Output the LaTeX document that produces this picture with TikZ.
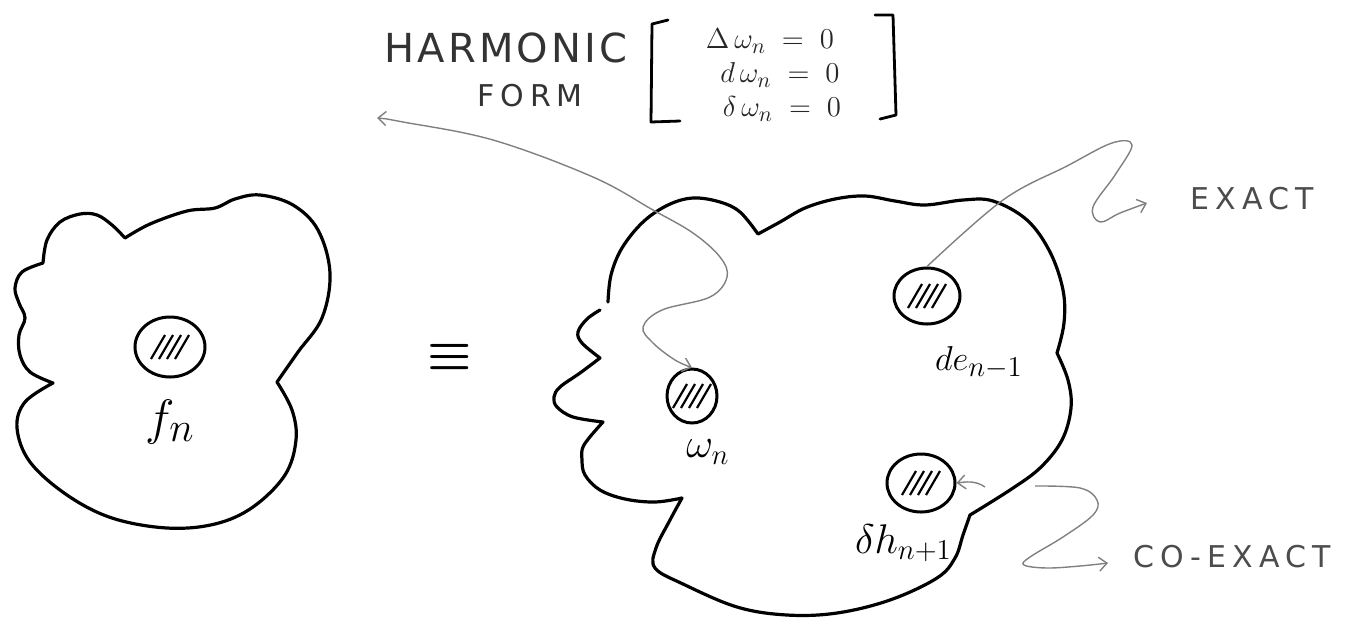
\documentclass[tikz,border=0pt]{standalone}
\usepackage{amsmath}
\usepackage{amsfonts}
\usepackage{fontspec}
\newfontfamily\mano[LetterSpace=20]{DejaVu Sans}
\newfontfamily\manoTitulo[LetterSpace=8]{DejaVu Sans}
\usetikzlibrary{shapes.geometric,arrows.meta}

\begin{document}
\begin{tikzpicture}[
    x=0.5pt, y=-0.5pt,
    % contorno de las dos regiones
    contorno/.style={draw=black, line width=1.6pt, line join=round, line cap=round},
    % disco rayado
    mancha/.style={ellipse, draw=black, line width=1.5pt, inner sep=0pt, fill=white,
        path picture={
            \foreach \d in {-12,-4,4,12}
                \draw[line width=1.1pt] ([shift={(\d-7,12)}]path picture bounding box.center)
                    -- ([shift={(\d+7,-12)}]path picture bounding box.center);
        }},
    flechaGris/.style={draw=black!50, line width=0.7pt, >={Straight Barb[length=4pt,width=7pt]}},
    rotulo/.style={font=\mano\fontsize{15}{15}\selectfont, text=black!70},
    formula/.style={font=\fontsize{15.5}{15.5}\selectfont, text=black!85, inner sep=0pt},
    etiqueta/.style={font=\fontsize{22}{22}\selectfont}
]
    \useasboundingbox (0,0) rectangle (1355,618);

    % --- REGION IZQUIERDA ---
    \draw[contorno]
        plot[smooth, tension=0.6] coordinates {(43,263) (47,240) (60,222) (80,214) (97,215) (112,225) (125,238)}
     -- plot[smooth, tension=0.6] coordinates {(125,238) (150,224) (187,211) (215,208) (235,199) (260,195) (293,205) (318,230) (330,273) (322,318) (298,352) (277,382)}
     -- plot[smooth, tension=0.6] coordinates {(277,382) (292,410) (296,440) (285,475) (253,507) (215,524) (167,528) (112,518) (67,495) (30,462) (17,428) (25,402) (53,383)}
     -- plot[smooth, tension=0.6] coordinates {(53,383) (30,372) (20,355) (19,335) (25,318) (19,303) (15,288) (22,272) (43,263)};

    \node[mancha, minimum width=35pt, minimum height=30pt] (fDisco) at (170,347) {};
    \node[etiqueta, font=\fontsize{28}{28}\selectfont] (fRotulo) at (170,422) {$f_n$};

    % --- EQUIVALENCIA ---
    \node[font=\fontsize{40}{40}\selectfont] (equiv) at (450,357) {$\boldsymbol{\equiv}$};

    % --- REGION DERECHA ---
    \draw[contorno]
        plot[smooth, tension=0.6] coordinates {(608,302) (611,275) (622,248) (643,222) (668,205) (693,198) (720,202) (740,212) (758,234)}
     -- plot[smooth, tension=0.6] coordinates {(758,234) (780,222) (805,208) (835,199) (865,196) (895,201) (925,205) (963,200) (993,201) (1027,220) (1050,252) (1063,290) (1064,323) (1057,353)}
     -- plot[smooth, tension=0.6] coordinates {(1057,353) (1068,380) (1071,408) (1062,440) (1040,468) (1010,490) (970,515)}
     -- plot[smooth, tension=0.6] coordinates {(970,515) (963,535) (955,558) (937,578) (890,600) (837,613) (787,615) (737,607) (683,584) (655,568) (656,548) (670,520) (682,498)}
     -- plot[smooth, tension=0.6] coordinates {(682,498) (655,502) (625,499) (600,490) (585,475) (582,460) (584,445) (603,422)}
     -- plot[smooth, tension=0.6] coordinates {(603,422) (573,417) (557,407) (554,397) (560,387) (580,373) (600,358)}
     -- plot[smooth, tension=0.6] coordinates {(600,358) (582,343) (578,332) (587,319) (600,310)};

    \node[mancha, minimum width=25pt, minimum height=27pt] (wDisco) at (692,396) {};
    \node[mancha, minimum width=33pt, minimum height=28pt] (deDisco) at (927,296) {};
    \node[mancha, minimum width=34pt, minimum height=29pt] (dhDisco) at (921,483) {};

    \node[etiqueta] (wRotulo) at (708,452) {$\omega_n$};
    \node[etiqueta, anchor=base west, font=\fontsize{19}{19}\selectfont] (deRotulo) at (928,370) {$de_{n-1}$};
    \node[etiqueta, anchor=base west] (dhRotulo) at (848,553) {$\delta h_{n+1}$};

    % --- FORMA ARMONICA ---
    \node[rotulo, font=\manoTitulo\fontsize{20}{20}\selectfont, text=black!80] (armonico) at (506,48) {HARMONIC};
    \node[rotulo, text=black!80] (forma) at (530,96) {FORM};
    \node[formula] (ecLaplace) at (770,41) {$\Delta\,\omega_n \;=\; 0$};
    \node[formula] (ecD) at (780,75) {$d\,\omega_n \;=\; 0$};
    \node[formula] (ecDelta) at (782,109) {$\delta\,\omega_n \;=\; 0$};
    \draw[contorno, line width=1.4pt] (668,20) -- (652,24) -- (651,122) -- (680,121);
    \draw[contorno, line width=1.4pt] (875,15) -- (893,15) -- (896,115) -- (880,119);

    % --- TEXTOS DE LA DERECHA ---
    \node[rotulo] (exacto) at (1252,199) {EXACT};
    \node[rotulo] (coexacto) at (1232,557) {CO-EXACT};

    % --- FLECHAS ---
    \coordinate (cArmonico) at (377,118);
    \coordinate (cExacto) at (1147,203);
    \coordinate (cDelta) at (985,487);
    \coordinate (cCoInicio) at (1035,486);
    \coordinate (cCoexacto) at (1108,563);

    \draw[flechaGris, <->] plot[smooth, tension=0.6] coordinates {(cArmonico) (403,122) (493,140) (593,177) (653,210) (693,233) (720,257) (727,277) (710,297) (662,310) (643,327) (653,343) (675,360) (wDisco.north)};
    \draw[flechaGris, ->] plot[smooth, tension=0.6] coordinates {(deDisco.north) (1003,200) (1067,166) (1112,143) (1132,145) (1115,175) (1093,207) (1100,222) (1120,213) (cExacto)};
    \draw[flechaGris, ->] (cDelta) .. controls (975,480) and (965,482) .. (dhDisco.east);
    \draw[flechaGris, ->] plot[smooth, tension=0.6] coordinates {(cCoInicio) (1080,488) (1097,500) (1093,515) (1063,537) (1030,557) (1024,565) (1047,568) (1080,566) (cCoexacto)};

\end{tikzpicture}
\end{document}
